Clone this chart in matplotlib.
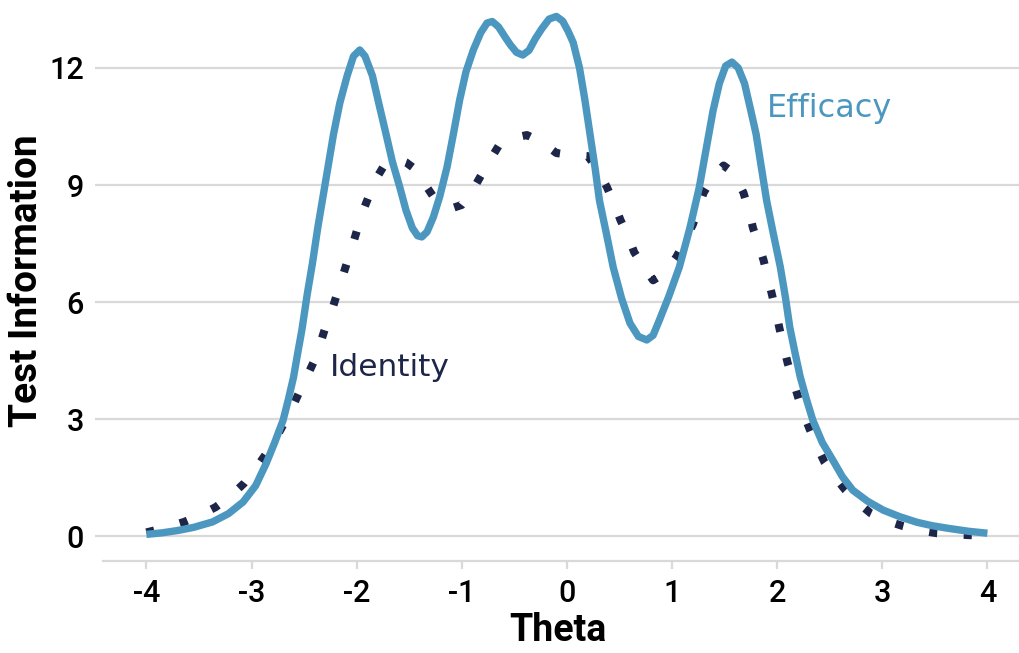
import matplotlib
matplotlib.use("Agg")
import matplotlib.pyplot as plt

plt.rcParams["axes.unicode_minus"] = False

# Efficacy test information (solid line)
theta_eff = [-4.0, -3.85, -3.7, -3.55, -3.37, -3.22, -3.08, -2.96, -2.86, -2.78,
             -2.70, -2.65, -2.60, -2.56, -2.52, -2.47, -2.42, -2.37, -2.32, -2.27,
             -2.22, -2.16, -2.09, -2.03, -1.97, -1.92, -1.85, -1.79, -1.72, -1.66,
             -1.59, -1.53, -1.47, -1.42, -1.38, -1.33, -1.27, -1.21, -1.14, -1.08,
             -1.02, -0.96, -0.89, -0.82, -0.76, -0.71, -0.65, -0.59, -0.54, -0.48,
             -0.42, -0.36, -0.30, -0.24, -0.17, -0.10, -0.04, 0.01, 0.06, 0.12,
             0.17, 0.22, 0.27, 0.31, 0.38, 0.44, 0.52, 0.60, 0.68, 0.76,
             0.82, 0.88, 0.97, 1.07, 1.17, 1.26, 1.33, 1.39, 1.45, 1.51,
             1.57, 1.63, 1.69, 1.75, 1.80, 1.85, 1.90, 1.96, 2.03, 2.08,
             2.12, 2.17, 2.22, 2.28, 2.34, 2.43, 2.53, 2.62, 2.72, 2.86,
             3.01, 3.17, 3.33, 3.48, 3.64, 3.82, 4.0]
info_eff = [0.05, 0.09, 0.15, 0.23, 0.37, 0.58, 0.88, 1.3, 1.87, 2.4,
            2.97, 3.5, 4.08, 4.7, 5.3, 6.2, 7.0, 7.9, 8.7, 9.5,
            10.3, 11.1, 11.8, 12.3, 12.46, 12.3, 11.8, 11.1, 10.3, 9.6,
            8.95, 8.35, 7.9, 7.7, 7.67, 7.8, 8.18, 8.7, 9.46, 10.3,
            11.18, 11.9, 12.46, 12.9, 13.15, 13.19, 13.05, 12.8, 12.6, 12.4,
            12.33, 12.45, 12.75, 13.0, 13.25, 13.32, 13.2, 12.95, 12.65, 12.0,
            11.2, 10.3, 9.4, 8.6, 7.7, 6.9, 6.1, 5.46, 5.12, 5.03,
            5.15, 5.54, 6.15, 6.9, 7.9, 8.95, 10.0, 10.9, 11.6, 12.05,
            12.15, 12.0, 11.6, 10.9, 10.3, 9.45, 8.6, 7.8, 6.9, 6.1,
            5.36, 4.7, 4.08, 3.5, 2.97, 2.4, 1.95, 1.53, 1.18, 0.9,
            0.67, 0.5, 0.36, 0.27, 0.2, 0.13, 0.08]

# Identity test information (dotted line)
theta_id = [-4.0, -3.82, -3.64, -3.49, -3.34, -3.2, -3.07, -2.97, -2.87, -2.78,
            -2.70, -2.62, -2.55, -2.48, -2.41, -2.35, -2.30, -2.24, -2.19, -2.14,
            -2.09, -2.04, -1.99, -1.94, -1.88, -1.81, -1.73, -1.66, -1.60, -1.53,
            -1.46, -1.37, -1.27, -1.18, -1.10, -1.00, -0.91, -0.82, -0.74, -0.65,
            -0.52, -0.38, -0.24, -0.10, 0.05, 0.20, 0.29, 0.38, 0.45, 0.51,
            0.58, 0.64, 0.73, 0.82, 0.93, 1.04, 1.12, 1.20, 1.25, 1.30,
            1.40, 1.49, 1.59, 1.68, 1.73, 1.77, 1.82, 1.87, 1.91, 1.95,
            1.99, 2.02, 2.06, 2.10, 2.15, 2.20, 2.25, 2.31, 2.38, 2.45,
            2.55, 2.65, 2.77, 2.89, 3.04, 3.20, 3.36, 3.52, 3.68, 3.84, 4.0]
info_id = [0.1, 0.22, 0.37, 0.54, 0.75, 1.03, 1.36, 1.7, 2.08, 2.45,
           2.85, 3.25, 3.67, 4.05, 4.46, 4.9, 5.33, 5.75, 6.18, 6.6,
           7.03, 7.45, 7.9, 8.33, 8.74, 9.18, 9.54, 9.64, 9.65, 9.58,
           9.44, 9.1, 8.7, 8.48, 8.4, 8.49, 8.8, 9.23, 9.6, 10.0,
           10.2, 10.28, 10.1, 9.82, 9.76, 9.74, 9.4, 8.95, 8.52, 8.1,
           7.7, 7.28, 6.9, 6.56, 6.75, 7.15, 7.55, 8.0, 8.4, 8.8,
           9.25, 9.5, 9.3, 8.8, 8.35, 7.9, 7.5, 7.08, 6.65, 6.2,
           5.75, 5.35, 4.88, 4.44, 4.0, 3.56, 3.15, 2.74, 2.3, 1.9,
           1.52, 1.18, 0.86, 0.59, 0.4, 0.26, 0.15, 0.08, 0.05, 0.03, 0.02]

x_ticks = [-4, -3, -2, -1, 0, 1, 2, 3, 4]
y_ticks = [0, 3, 6, 9, 12]

blue = "#4b97c0"
navy = "#1d2549"
grid_grey = "#d9d9d9"

fig = plt.figure(figsize=(10.2, 6.53), dpi=100)
ax = fig.add_axes([0.093, 0.141, 0.907, 0.859])

ax.plot(theta_id, info_id, color=navy, lw=5.8, dashes=(1, 3.3), zorder=3)
ax.plot(theta_eff, info_eff, color=blue, lw=5.3, solid_joinstyle="round",
        solid_capstyle="butt", zorder=4)

ax.set_xlim(-4.49, 4.31)
ax.set_ylim(-0.63, 13.74)
ax.set_xticks(x_ticks)
ax.set_yticks(y_ticks)
ax.yaxis.grid(True, color=grid_grey, lw=1.6)
ax.set_axisbelow(True)

for s in ["top", "right", "left"]:
    ax.spines[s].set_visible(False)
ax.spines["bottom"].set_color(grid_grey)
ax.spines["bottom"].set_linewidth(1.6)
ax.spines["bottom"].set_bounds(-4.41, 4.31)

ax.tick_params(axis="x", length=6, width=1.6, color=grid_grey, pad=7,
               labelsize=22)
ax.tick_params(axis="y", length=0, pad=8, labelsize=22)
for lab in ax.get_xticklabels() + ax.get_yticklabels():
    lab.set_family("Roboto")
    lab.set_fontweight("medium")

ax.set_xlabel("Theta", family="Roboto", fontweight="bold", fontsize=27,
              labelpad=3)
ax.set_ylabel("Test Information", family="Roboto", fontweight="bold",
              fontsize=28, labelpad=3)

ax.text(1.90, 10.74, "Efficacy", color=blue, fontsize=23, va="baseline",
        family="DejaVu Sans")
ax.text(-2.256, 4.1, "Identity", color=navy, fontsize=22.5, va="baseline",
        family="DejaVu Sans")

fig.savefig("out.png", dpi=100)
